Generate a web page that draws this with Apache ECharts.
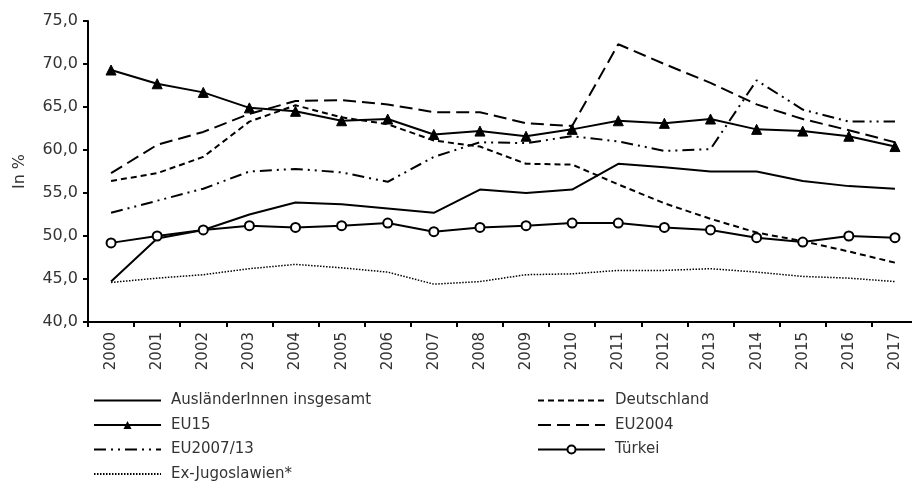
<!DOCTYPE html>
<html lang="de">
<head>
    <meta charset="UTF-8">
    <title>Erwerbsquote</title>
    <script src="https://cdn.jsdelivr.net/npm/echarts@6/dist/echarts.min.js"></script>
    <style>
        html, body { margin: 0; padding: 0; background: #fff; }
        #main { width: 912px; height: 484px; }
    </style>
</head>
<body>
<div id="main"></div>
<script type="text/javascript">
    // Jahre
    var years = ['2000','2001','2002','2003','2004','2005','2006','2007','2008',
                 '2009','2010','2011','2012','2013','2014','2015','2016','2017'];

    // Werte in %
    var auslaender = [44.7, 49.7, 50.7, 52.5, 53.9, 53.7, 53.2, 52.7, 55.4, 55.0, 55.4, 58.4, 58.0, 57.5, 57.5, 56.4, 55.8, 55.5];
    var deutschland = [56.4, 57.3, 59.2, 63.3, 65.2, 63.8, 63.0, 61.1, 60.4, 58.4, 58.3, 56.0, 53.8, 52.0, 50.4, 49.4, 48.2, 46.9];
    var eu15 = [69.3, 67.7, 66.7, 64.9, 64.5, 63.4, 63.6, 61.8, 62.2, 61.6, 62.4, 63.4, 63.1, 63.6, 62.4, 62.2, 61.6, 60.4];
    var eu2004 = [57.3, 60.6, 62.1, 64.2, 65.7, 65.8, 65.3, 64.4, 64.4, 63.1, 62.8, 72.3, 70.0, 67.8, 65.3, 63.6, 62.3, 60.9];
    var eu2007 = [52.7, 54.1, 55.5, 57.5, 57.8, 57.4, 56.3, 59.2, 60.9, 60.8, 61.6, 61.0, 59.9, 60.1, 68.1, 64.7, 63.3, 63.3];
    var tuerkei = [49.2, 50.0, 50.7, 51.2, 51.0, 51.2, 51.5, 50.5, 51.0, 51.2, 51.5, 51.5, 51.0, 50.7, 49.8, 49.3, 50.0, 49.8];
    var exJugo = [44.6, 45.1, 45.5, 46.2, 46.7, 46.3, 45.8, 44.4, 44.7, 45.5, 45.6, 46.0, 46.0, 46.2, 45.8, 45.3, 45.1, 44.7];

    var fontName = 'DejaVu Sans';
    var txtColor = '#333';

    var myChart = echarts.init(document.getElementById('main'), null, {renderer: 'canvas'});

    function lineSeries(name, data, dash, width) {
        return {
            name: name,
            type: 'line',
            data: data,
            symbol: 'none',
            silent: true,
            lineStyle: {color: '#000', width: width || 2, type: dash || 'solid'},
            itemStyle: {color: '#000'},
            animation: false
        };
    }

    var sEu15 = lineSeries('EU15', eu15);
    sEu15.symbol = 'triangle';
    sEu15.symbolSize = 10;
    sEu15.itemStyle = {color: '#000', borderColor: '#000'};

    var sTuerkei = lineSeries('Türkei', tuerkei);
    sTuerkei.symbol = 'circle';
    sTuerkei.symbolSize = 9;
    sTuerkei.itemStyle = {color: '#fff', borderColor: '#000', borderWidth: 2};

    // Legendeneintrag ohne Marker
    function plain(name) {
        return {name: name, itemStyle: {opacity: 0}};
    }

    var legendBase = {
        orient: 'vertical',
        top: 393,
        height: 120,
        padding: 0,
        itemWidth: 67,
        itemHeight: 10,
        itemGap: 9.5,
        selectedMode: false,
        textStyle: {fontFamily: fontName, fontSize: 15, color: txtColor, padding: [0, 0, 0, 5]}
    };

    var option = {
        backgroundColor: '#fff',
        animation: false,
        textStyle: {fontFamily: fontName, color: txtColor},
        grid: {
            left: 88,
            right: -6,
            top: 21,
            bottom: 162,
            containLabel: false,
            outerBoundsMode: 'none'
        },
        legend: [
            Object.assign({}, legendBase, {
                left: 93,
                data: [plain('AusländerInnen insgesamt'), {name: 'EU15'}, plain('EU2007/13'), plain('Ex-Jugoslawien*')]
            }),
            Object.assign({}, legendBase, {
                left: 537,
                data: [plain('Deutschland'), plain('EU2004'), {name: 'Türkei'}]
            })
        ],
        xAxis: {
            type: 'category',
            data: years,
            boundaryGap: true,
            axisLine: {lineStyle: {color: '#000', width: 2}},
            axisTick: {show: true, inside: false, length: 5, lineStyle: {color: '#000', width: 2}},
            axisLabel: {
                rotate: 90,
                interval: 0,
                margin: 10,
                fontFamily: fontName,
                fontSize: 15,
                color: txtColor
            },
            splitLine: {show: false}
        },
        yAxis: {
            type: 'value',
            min: 40,
            max: 75,
            interval: 5,
            name: 'In %',
            nameLocation: 'middle',
            nameGap: 60,
            nameTextStyle: {fontFamily: fontName, fontSize: 16, color: txtColor},
            axisLine: {show: true, lineStyle: {color: '#000', width: 2}},
            axisTick: {show: true, inside: false, length: 5, lineStyle: {color: '#000', width: 2}},
            axisLabel: {
                margin: 10,
                fontFamily: fontName,
                fontSize: 16,
                color: txtColor,
                formatter: function (v) { return v.toFixed(1).replace('.', ','); }
            },
            splitLine: {show: false}
        },
        series: [
            lineSeries('AusländerInnen insgesamt', auslaender),
            lineSeries('Deutschland', deutschland, [6, 4]),
            sEu15,
            lineSeries('EU2004', eu2004, [13, 6]),
            lineSeries('EU2007/13', eu2007, [12, 5, 2, 5, 2, 5]),
            sTuerkei,
            lineSeries('Ex-Jugoslawien*', exJugo, [1.5, 1.5], 1.5)
        ]
    };

    myChart.setOption(option);
</script>
</body>
</html>
